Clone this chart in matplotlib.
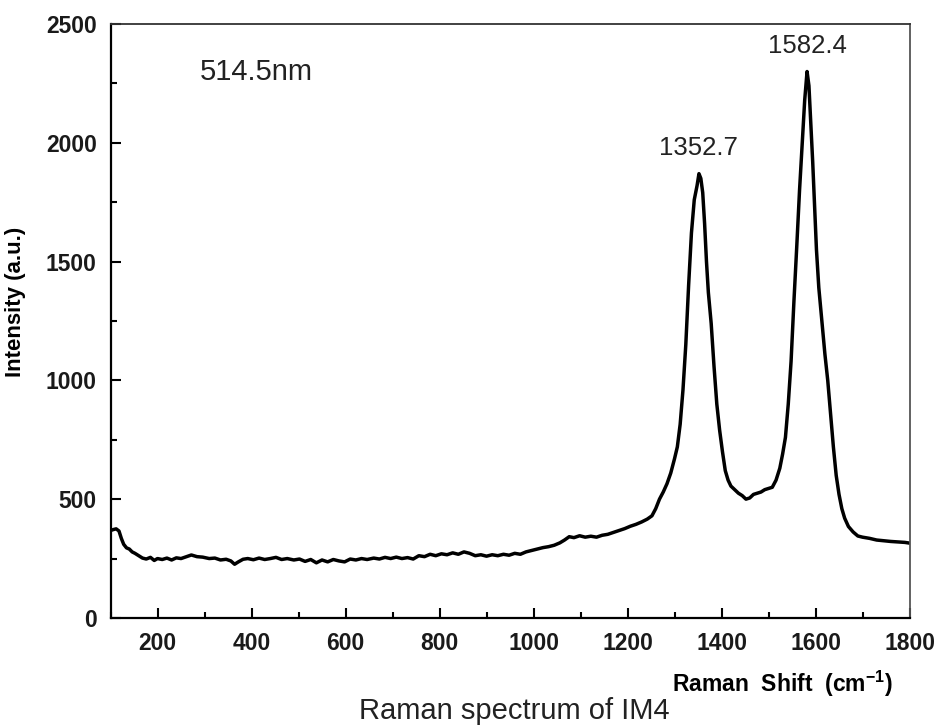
import matplotlib
matplotlib.use("Agg")
import matplotlib.pyplot as plt

plt.rcParams['font.family'] = ['Liberation Sans', 'DejaVu Sans']
plt.rcParams['mathtext.fontset'] = 'custom'
plt.rcParams['mathtext.rm'] = 'Liberation Sans:bold'
plt.rcParams['mathtext.bf'] = 'Liberation Sans:bold'

# data
ramanShift = [100, 106, 112, 118, 123, 128, 134, 140, 146, 152, 160, 168, 176, 185, 193,
              200, 210, 220, 230, 240, 250, 260, 272, 284, 296, 310, 322, 334, 346, 356,
              364, 372, 382, 392, 404, 416, 428, 440, 452, 464, 476, 490, 502, 514, 526,
              538, 550, 562, 574, 586, 598, 610, 622, 634, 646, 660, 672, 684, 696, 708,
              720, 732, 744, 756, 768, 780, 792, 804, 816, 828, 840, 852, 864, 876, 888,
              900, 912, 924, 936, 948, 960, 972, 984, 996, 1008, 1020, 1032, 1044, 1056,
              1066, 1076, 1086, 1098, 1110, 1122, 1134, 1146, 1158, 1170, 1182, 1194, 1206,
              1218, 1230, 1242, 1252, 1260, 1268, 1276, 1284, 1292, 1300, 1306, 1312, 1318,
              1324, 1330, 1336, 1342, 1348, 1352, 1356, 1360, 1364, 1368, 1372, 1378, 1384,
              1390, 1396, 1402, 1408, 1414, 1420, 1428, 1436, 1444, 1452, 1460, 1468, 1476,
              1484, 1492, 1500, 1508, 1516, 1524, 1530, 1536, 1542, 1548, 1554, 1560, 1566,
              1572, 1577, 1582, 1586, 1590, 1594, 1598, 1602, 1607, 1614, 1620, 1626, 1632,
              1638, 1644, 1650, 1656, 1662, 1670, 1680, 1690, 1700, 1715, 1730, 1745, 1760,
              1775, 1790, 1800]
intensity = [368, 372, 375, 366, 335, 310, 295, 290, 278, 272, 262, 252, 248, 255, 242,
             250, 246, 252, 244, 253, 250, 257, 265, 258, 256, 250, 252, 244, 247, 240,
             226, 236, 247, 250, 245, 252, 246, 250, 255, 246, 250, 244, 248, 238, 246,
             232, 244, 236, 246, 240, 236, 248, 244, 250, 246, 252, 248, 255, 250, 256,
             250, 254, 248, 262, 258, 268, 262, 270, 266, 274, 268, 278, 272, 262, 266,
             260, 266, 262, 268, 264, 272, 268, 278, 284, 290, 296, 300, 306, 316,
             328, 342, 338, 346, 340, 344, 340, 348, 352, 360, 368, 376, 386,
             394, 404, 416, 430, 460, 500, 530, 565, 610, 670, 720, 815, 960,
             1150, 1400, 1620, 1760, 1820, 1870, 1850, 1790, 1660, 1500, 1370, 1240, 1060,
             900, 790, 700, 620, 580, 555, 540, 525, 515, 500, 505, 520, 525,
             530, 540, 545, 550, 580, 630, 690, 760, 900, 1080, 1330, 1560, 1800,
             2010, 2180, 2300, 2240, 2080, 1920, 1730, 1550, 1390, 1240, 1110, 1000, 860,
             720, 600, 520, 460, 420, 385, 362, 345, 340, 335, 328, 325, 322,
             320, 318, 315]

peakLabels = ["1352.7", "1582.4"]
peakPos = [(1350, 1949), (1582, 2378)]

fig = plt.figure(figsize=(9.39, 7.27), dpi=100)
ax = fig.add_axes([0.1177, 0.150, 0.8509, 0.817])

ax.plot(ramanShift, intensity, color='black', linewidth=2.5)

ax.set_xlim(100, 1800)
ax.set_ylim(0, 2500)
ax.set_xticks(range(200, 1801, 200))
ax.set_xticks(range(100, 1800, 100), minor=True)
ax.set_yticks(range(0, 2501, 500))
ax.set_yticks(range(250, 2500, 500), minor=True)
ax.tick_params(which='both', direction='in', top=False, right=False, width=1.5)
ax.tick_params(which='major', length=7, labelsize=16.5)
ax.tick_params(which='minor', length=4)
ax.tick_params(axis='x', pad=10)
ax.tick_params(axis='y', pad=10)
for lab in ax.get_xticklabels() + ax.get_yticklabels():
    lab.set_fontweight('bold')
    lab.set_color('#1a1a1a')

ax.spines['left'].set_linewidth(1.6)
ax.spines['bottom'].set_linewidth(1.6)
ax.spines['top'].set_linewidth(1.3)
ax.spines['right'].set_linewidth(1.3)
ax.spines['top'].set_color('#333333')
ax.spines['right'].set_color('#555555')

ax.set_ylabel("Intensity (a.u.)", fontsize=16, fontweight='bold')
ax.yaxis.set_label_coords(-0.106, 0.532)

ax.set_xlabel(r"Raman  Shift  (cm$^{\mathbf{-1}}$)", fontsize=16.5, fontweight='bold')
ax.xaxis.set_label_coords(0.979, -0.1246)
ax.xaxis.label.set_horizontalalignment('right')
ax.xaxis.label.set_verticalalignment('baseline')

ax.text(290, 2264, "514.5nm", fontsize=21, color='#222222', ha='left', va='baseline')
for lbl, (px, py) in zip(peakLabels, peakPos):
    ax.text(px, py, lbl, fontsize=18.5, color='#222222', ha='center', va='baseline')

fig.text(514 / 939, 1 - 719 / 727, "Raman spectrum of IM4", fontsize=21,
         color='#222222', ha='center', va='baseline')

fig.savefig("out.png", dpi=100)
